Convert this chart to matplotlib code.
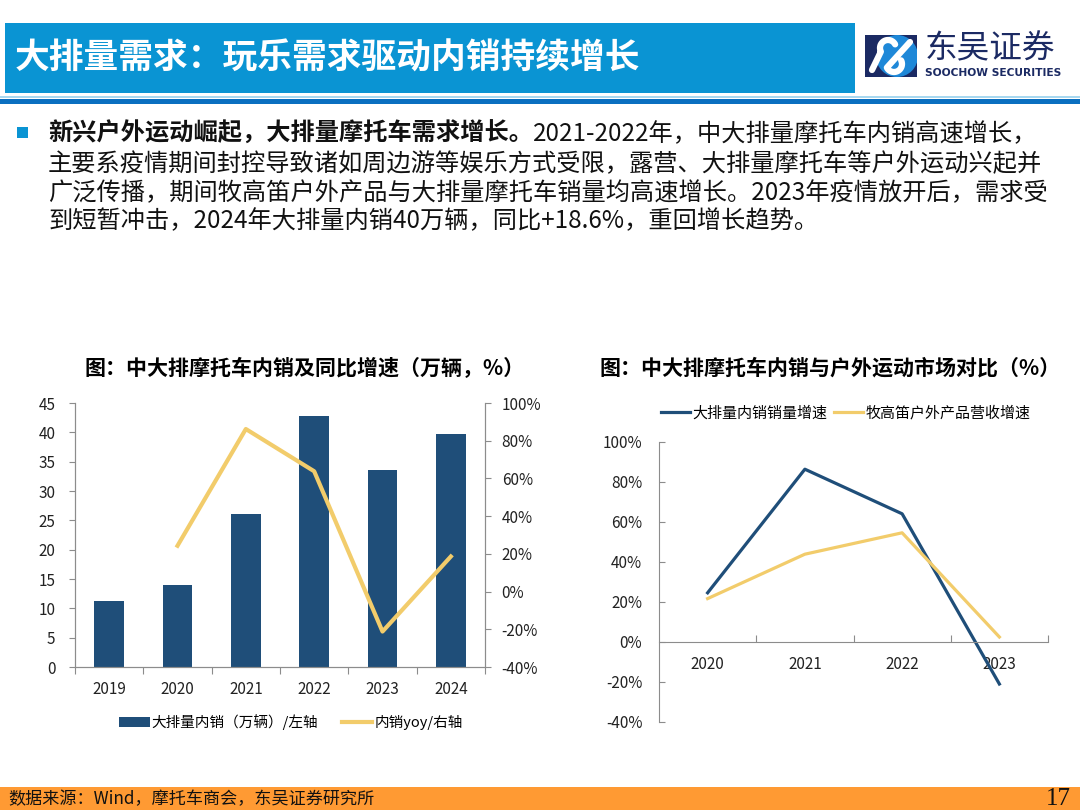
import numpy as np
import matplotlib
matplotlib.use("Agg")
import matplotlib.pyplot as plt
from matplotlib.patches import Rectangle, Patch, Circle
from matplotlib.lines import Line2D
from matplotlib.ticker import FuncFormatter, FixedLocator

plt.rcParams['font.family'] = ['Noto Sans CJK SC', 'DejaVu Sans']

# data
years = ['2019', '2020', '2021', '2022', '2023', '2024']
sales = [11.3, 14.0, 26.1, 42.7, 33.6, 39.8]          # 万辆
yoy = [24.3, 86.2, 63.8, -21.2, 18.6]                  # %, 2020-2024

cmp_years = ['2020', '2021', '2022', '2023']
big_moto_growth = [24.6, 86.4, 64.1, -21.0]            # 大排量内销销量增速
mobi_growth = [21.7, 43.9, 54.6, 2.5]                  # 牧高笛户外产品营收增速

title = '大排量需求：玩乐需求驱动内销持续增长'
bold_lead = '新兴户外运动崛起，大排量摩托车需求增长。'
para = ['2021-2022年，中大排量摩托车内销高速增长，',
        '主要系疫情期间封控导致诸如周边游等娱乐方式受限，露营、大排量摩托车等户外运动兴起并',
        '广泛传播，期间牧高笛户外产品与大排量摩托车销量均高速增长。2023年疫情放开后，需求受',
        '到短暂冲击，2024年大排量内销40万辆，同比+18.6%，重回增长趋势。']

BLUE = '#1F4E79'
YELLOW = '#F2CC6B'
W, H = 1080, 810

fig = plt.figure(figsize=(10.8, 8.1), dpi=100)


def fx(x):
    return x / W


def fy(y):
    return 1 - y / H


def rect(x0, y0, x1, y1, color):
    fig.patches.append(Rectangle((fx(x0), fy(y1)), fx(x1) - fx(x0), fy(y0) - fy(y1),
                                 transform=fig.transFigure, color=color, lw=0, zorder=0))


# header
rect(5, 23, 855, 93, '#0A94D3')
fig.text(fx(15), fy(58), title, color='white', fontsize=25, fontweight='bold', va='center')
rect(0, 96, W, 97.5, '#A8D8F0')
rect(0, 99, W, 104, '#0A6FC0')

# logo (pixel coords inside a small axes, y down)
lax = fig.add_axes([fx(865), fy(77), fx(917) - fx(865), fy(35) - fy(77)], zorder=5)
lax.set_xlim(865, 917)
lax.set_ylim(77, 35)
lax.axis('off')
lax.add_patch(Rectangle((865, 35), 52, 42, color='#1B2A63', lw=0))
blob = Circle((897, 56), 21, color='#1E88D8', lw=0)
lax.add_patch(blob)
blob.set_clip_path(Rectangle((878, 35), 39, 42, transform=lax.transData))
ang = np.linspace(np.pi * 0.15, np.pi * 1.15, 25)
hook1x = np.concatenate([[872], 888 + 8 * np.cos(ang[::-1])])
hook1y = np.concatenate([[70], 48 - 8 * np.sin(ang[::-1])])
hook2x = np.concatenate([894 - 8 * np.cos(ang[::-1]), [910]])
hook2y = np.concatenate([64 + 8 * np.sin(ang[::-1]), [42]])
for hx, hy in [(hook1x, hook1y), (hook2x, hook2y)]:
    lax.plot(hx, hy, color='white', lw=4.5, solid_capstyle='round')

fig.text(fx(925), fy(49), '东吴证券', color='#1B2A63', fontsize=23.5, va='center')
fig.text(fx(925), fy(73), 'SOOCHOW SECURITIES', color='#1B2A63', fontsize=7.7,
         fontweight='bold', va='center', family=['DejaVu Sans'])

# paragraph
rect(17, 127, 28, 138, '#0A94D3')
fs = 17.45
line_y = [134, 164, 193, 221]
lead = fig.text(fx(48), fy(line_y[0]), bold_lead, fontsize=fs, fontweight='bold',
                va='center', color='#111111')
fig.canvas.draw()
bb = lead.get_window_extent(renderer=fig.canvas.get_renderer())
fig.text(bb.x1 / W, fy(line_y[0]), para[0], fontsize=fs, va='center', color='#111111')
for yy, s in zip(line_y[1:], para[1:]):
    fig.text(fx(48), fy(yy), s, fontsize=fs, va='center', color='#111111')

# chart titles
fig.text(fx(305), fy(368), '图：中大排摩托车内销及同比增速（万辆，%）', fontsize=15.1,
         fontweight='bold', ha='center', va='center')
fig.text(fx(830), fy(368), '图：中大排摩托车内销与户外运动市场对比（%）', fontsize=15.1,
         fontweight='bold', ha='center', va='center')

# left chart
spine_c = '#8C8C8C'
ax1 = fig.add_axes([fx(75), fy(667), fx(485) - fx(75), fy(403) - fy(667)])
x = np.arange(len(years))
ax1.bar(x, sales, width=0.43, color=BLUE, zorder=2)
ax1.set_xlim(-0.5, len(years) - 0.5)
ax1.set_ylim(0, 45)
ax1.set_yticks(np.arange(0, 46, 5))
ax1.xaxis.set_major_locator(FixedLocator(np.arange(-0.5, len(years), 1.0)))
ax1.xaxis.set_major_formatter(FuncFormatter(lambda v, p: ''))
ax1.set_xticks(x, minor=True)
ax1.set_xticklabels(years, minor=True)
ax1.tick_params(axis='x', which='major', length=5, color=spine_c)
ax1.tick_params(axis='x', which='minor', length=0, pad=10, labelsize=11, labelcolor='#222222')
ax1.tick_params(axis='y', length=4, color=spine_c, pad=10, labelsize=11, labelcolor='#222222')
ax1.spines['top'].set_visible(False)
for s in ['left', 'right', 'bottom']:
    ax1.spines[s].set_color(spine_c)

ax2 = ax1.twinx()
ax2.plot(x[1:], yoy, color=YELLOW, lw=3, zorder=3)
ax2.set_ylim(-40, 100)
ax2.set_yticks(np.arange(-40, 101, 20))
ax2.yaxis.set_major_formatter(FuncFormatter(lambda v, p: f'{v:.0f}%'))
ax2.tick_params(axis='y', length=4, color=spine_c, pad=8, labelsize=11, labelcolor='#222222')
ax2.spines['top'].set_visible(False)
for s in ['left', 'right', 'bottom']:
    ax2.spines[s].set_color(spine_c)

handles = [Patch(facecolor=BLUE, edgecolor='none'),
           Line2D([], [], color=YELLOW, lw=3)]
fig.legend(handles, ['大排量内销（万辆）/左轴', '内销yoy/右轴'], loc='center',
           bbox_to_anchor=(fx(291), fy(722)), ncol=2, frameon=False, fontsize=10.5,
           handlelength=2.1, handleheight=0.7, handletextpad=0.15, columnspacing=1.6)

# right chart
ax3 = fig.add_axes([fx(659), fy(722), fx(1048) - fx(659), fy(442) - fy(722)])
x2 = np.arange(len(cmp_years))
ax3.plot(x2, big_moto_growth, color=BLUE, lw=2.3, label='大排量内销销量增速')
ax3.plot(x2, mobi_growth, color=YELLOW, lw=2.3, label='牧高笛户外产品营收增速')
ax3.set_xlim(-0.5, len(cmp_years) - 0.5)
ax3.set_ylim(-40, 100)
ax3.set_yticks(np.arange(-40, 101, 20))
ax3.yaxis.set_major_formatter(FuncFormatter(lambda v, p: f'{v:.0f}%'))
ax3.xaxis.set_major_locator(FixedLocator(np.arange(0.5, len(cmp_years), 1.0)))
ax3.xaxis.set_major_formatter(FuncFormatter(lambda v, p: ''))
ax3.set_xticks(x2, minor=True)
ax3.set_xticklabels(cmp_years, minor=True)
ax3.spines['bottom'].set_position(('data', 0))
ax3.spines['top'].set_visible(False)
ax3.spines['right'].set_visible(False)
ax3.spines['left'].set_color(spine_c)
ax3.spines['bottom'].set_color(spine_c)
ax3.tick_params(axis='x', which='major', direction='in', length=5, color=spine_c)
ax3.tick_params(axis='x', which='minor', length=0, pad=10, labelsize=11, labelcolor='#222222')
ax3.tick_params(axis='y', direction='in', length=4, color=spine_c, pad=12,
                labelsize=11, labelcolor='#222222')
fig.legend(*ax3.get_legend_handles_labels(), loc='center', bbox_to_anchor=(fx(846), fy(413)),
           ncol=2, frameon=False, fontsize=10.8, handlelength=1.9, handletextpad=0.2,
           columnspacing=0.45)

# footer
rect(0, 787, W, H, '#FF9A33')
fig.text(fx(8), fy(799), '数据来源：Wind，摩托车商会，东吴证券研究所', fontsize=12.3, va='center',
         color='#111111')
fig.text(fx(1071), fy(799), '17', fontsize=18, va='center', ha='right',
         family=['Liberation Serif', 'DejaVu Serif'], color='#111111')

fig.savefig('out.png', dpi=100)
